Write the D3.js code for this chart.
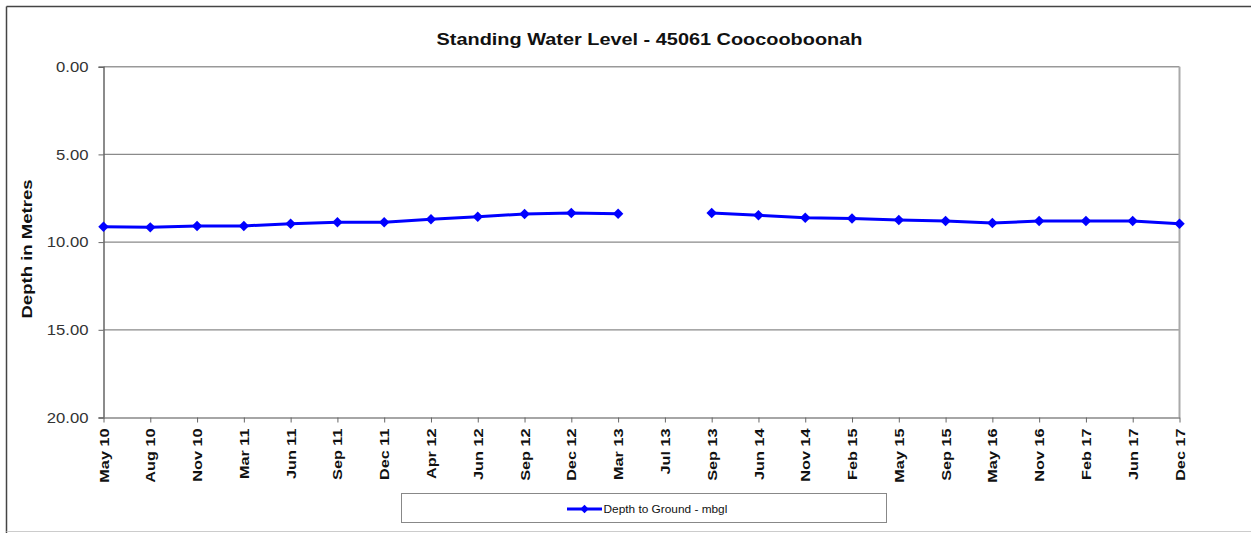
<!DOCTYPE html>
<html><head><meta charset="utf-8">
<script src="https://cdn.jsdelivr.net/npm/d3@7"></script>
<style>body{margin:0;background:#fff;}svg{display:block;font-family:"Liberation Sans",Arial,sans-serif;}</style>
</head><body><svg id="c" width="1251" height="533"></svg>
<script>
const categories = ["May 10","Aug 10","Nov 10","Mar 11","Jun 11","Sep 11","Dec 11","Apr 12","Jun 12","Sep 12","Dec 12","Mar 13","Jul 13","Sep 13","Jun 14","Nov 14","Feb 15","May 15","Sep 15","May 16","Nov 16","Feb 17","Jun 17","Dec 17"];
const depth = [9.12,9.16,9.08,9.08,8.95,8.87,8.87,8.70,8.55,8.40,8.34,8.38,null,8.34,8.47,8.61,8.66,8.74,8.80,8.91,8.80,8.80,8.80,8.95];
const yTicks = [0,5,10,15,20];
const title = "Standing Water Level - 45061 Coocooboonah";
const yTitle = "Depth in Metres";
const seriesName = "Depth to Ground - mbgl";

const svg = d3.select("#c");
const m = {l:103.5, r:1179.5, t:66.7, b:417.5};
const x = d3.scalePoint().domain(categories).range([m.l, m.r]).padding(0);
const y = d3.scaleLinear().domain([0,20]).range([m.t, m.b]);

// outer frame
svg.append("line").attr("x1",6.5).attr("x2",1251).attr("y1",6.5).attr("y2",6.5).attr("stroke","#444").attr("stroke-width",1.5);
svg.append("line").attr("x1",6.5).attr("x2",6.5).attr("y1",6.5).attr("y2",533).attr("stroke","#444").attr("stroke-width",1.5);
svg.append("line").attr("x1",6.5).attr("x2",1251).attr("y1",531.5).attr("y2",531.5).attr("stroke","#ccc").attr("stroke-width",1);

// gridlines
svg.append("g").selectAll("line").data(yTicks.slice(1,-1)).join("line")
  .attr("x1",m.l).attr("x2",m.r).attr("y1",d=>y(d)).attr("y2",d=>y(d))
  .attr("stroke","#8a8a8a").attr("stroke-width",1.3);
// plot frame top and right
svg.append("line").attr("x1",m.l).attr("x2",m.r).attr("y1",m.t).attr("y2",m.t).attr("stroke","#999").attr("stroke-width",1.5);
svg.append("line").attr("x1",m.r).attr("x2",m.r).attr("y1",m.t).attr("y2",m.b).attr("stroke","#aaa").attr("stroke-width",2);

// y axis
const ya = svg.append("g").attr("transform",`translate(${m.l},0)`)
  .call(d3.axisLeft(y).tickValues(yTicks).tickFormat(d3.format(".2f")).tickSize(5).tickPadding(10));
ya.select(".domain").attr("stroke","#666").attr("stroke-width",1.5);
ya.selectAll(".tick line").attr("stroke","#666");
ya.selectAll("text").attr("font-size","14.5px").attr("fill","#333").attr("font-family","Liberation Sans, Arial, sans-serif")
  .attr("x",0).attr("transform","translate(-15,0) scale(1.15,1)");

// x axis
const xa = svg.append("g").attr("transform",`translate(0,${m.b})`)
  .call(d3.axisBottom(x).tickSize(5).tickSizeOuter(0));
xa.select(".domain").attr("stroke","#888").attr("stroke-width",1.5);
xa.selectAll(".tick line").attr("stroke","#666");
xa.selectAll("text").attr("font-size","13px").attr("font-weight","bold").attr("fill","#111")
  .attr("font-family","Liberation Sans, Arial, sans-serif")
  .attr("transform","translate(0,11) rotate(-90) scale(1.25,1)").attr("text-anchor","end").attr("x",0).attr("y",0).attr("dy","0.35em");

// title
svg.append("text").attr("transform","translate(649.5,45) scale(1.17,1)").attr("text-anchor","middle")
  .attr("font-size","17px").attr("font-weight","bold").attr("fill","#111").text(title);
// y title
svg.append("text").attr("transform",`translate(32,249) rotate(-90) scale(1.28,1)`).attr("text-anchor","middle")
  .attr("font-size","14.5px").attr("font-weight","bold").attr("fill","#111").text(yTitle);

// line
const line = d3.line().defined(d=>d.v!=null).x(d=>x(d.c)).y(d=>y(d.v));
const data = categories.map((c,i)=>({c, v:depth[i]}));
svg.append("path").datum(data).attr("d",line).attr("fill","none").attr("stroke","#0000ff").attr("stroke-width",3).attr("stroke-linejoin","round");
const diamond = d3.symbol().type(d3.symbolDiamond2).size(70);
svg.append("g").selectAll("path").data(data.filter(d=>d.v!=null)).join("path")
  .attr("transform",d=>`translate(${x(d.c)},${y(d.v)})`).attr("d",diamond).attr("fill","#0000ff");

// legend
svg.append("rect").attr("x",401.5).attr("y",493.5).attr("width",485).attr("height",29).attr("fill","#fff").attr("stroke","#888").attr("stroke-width",1);
svg.append("line").attr("x1",567).attr("x2",602).attr("y1",509).attr("y2",509).attr("stroke","#0000ff").attr("stroke-width",3);
svg.append("path").attr("transform","translate(584.5,509)").attr("d",d3.symbol().type(d3.symbolDiamond2).size(45)).attr("fill","#0000ff");
svg.append("text").attr("transform","translate(603.5,512.5) scale(1.13,1)").attr("font-size","10.5px").attr("fill","#111").text(seriesName);
</script></body></html>
